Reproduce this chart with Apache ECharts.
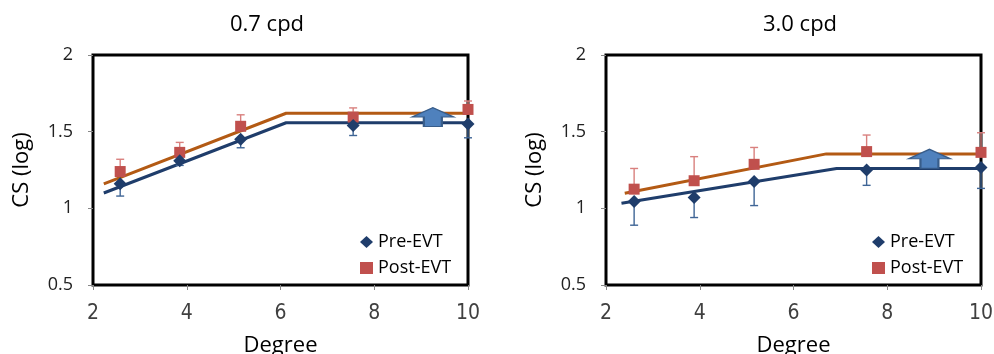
<!DOCTYPE html>
<html>
<head>
<meta charset="utf-8">
<script src="https://cdn.jsdelivr.net/npm/echarts@6/dist/echarts.min.js"></script>
<style>
html,body{margin:0;padding:0;background:#fff;}
#main{width:994px;height:354px;}
</style>
</head>
<body>
<div id="main"></div>
<script>
/*------------数据-------------*/
var titles = ['0.7 cpd', '3.0 cpd'];
var xTicks = [2, 4, 6, 8, 10];
var yTicks = [0.5, 1, 1.5, 2];

// 0.7 cpd
var deg07 = [2.58, 3.85, 5.15, 7.55, 10];
var pre07 = [1.16, 1.31, 1.45, 1.54, 1.55];
var pre07Err = [0.08, 0.03, 0.055, 0.065, 0.09];
var post07 = [1.24, 1.365, 1.535, 1.595, 1.645];
var post07Err = [0.08, 0.065, 0.075, 0.06, 0.055];
var fit07X = [2.23, 6.12, 10];
var fitPre07 = [1.10, 1.558, 1.558];
var fitPost07 = [1.16, 1.62, 1.62];
var arrow07 = [9.25, 1.595];

// 3.0 cpd
var deg30 = [2.6, 3.88, 5.16, 7.56, 10];
var pre30 = [1.045, 1.07, 1.175, 1.25, 1.267];
var pre30Err = [0.155, 0.13, 0.157, 0.10, 0.137];
var post30 = [1.125, 1.18, 1.287, 1.37, 1.365];
var post30Err = [0.135, 0.157, 0.11, 0.108, 0.128];
var fit30PreX = [2.33, 6.92, 10];
var fitPre30 = [1.033, 1.26, 1.26];
var fit30PostX = [2.4, 6.7, 10];
var fitPost30 = [1.098, 1.355, 1.355];
var arrow30 = [8.9, 1.323];

/*------------样式-------------*/
var FONT = "'Open Sans', 'Noto Sans', sans-serif";
var XFONT = "'Liberation Sans Narrow', 'DejaVu Sans Condensed', sans-serif";
var NAVY = '#1F3D6B';
var RED = '#C0504D';
var FIT_PRE = '#1F3D6B';
var FIT_POST = '#B35A14';
var ARROW_PATH = 'path://M0,10 L21,0 L42,10 L30,10 L30,20 L12,20 L12,10 Z';

function zip(xs, ys){
	var out = [];
	for(var i=0;i<xs.length;i++){ out.push([xs[i], ys[i]]); }
	return out;
}
function zip3(xs, ys, es){
	var out = [];
	for(var i=0;i<xs.length;i++){ out.push([xs[i], ys[i], es[i]]); }
	return out;
}

// dir=-1 只画下误差, dir=1 只画上误差
function errBar(dir, color){
	return function(params, api){
		var x = api.value(0), y = api.value(1), e = api.value(2);
		var p0 = api.coord([x, y]);
		var p1 = api.coord([x, y + dir*e]);
		var st = {stroke: color, lineWidth: 1.4};
		return {
			type: 'group',
			children: [
				{type:'line', shape:{x1:p0[0], y1:p0[1], x2:p1[0], y2:p1[1]}, style: st},
				{type:'line', shape:{x1:p1[0]-4, y1:p1[1], x2:p1[0]+4, y2:p1[1]}, style: st}
			]
		};
	};
}

var gridLefts = [93, 606];

function makeAxes(){
	var xAxis = [], yAxis = [];
	for(var i=0;i<2;i++){
		xAxis.push({
			type:'value', gridIndex:i,
			min: xTicks[0], max: xTicks[xTicks.length-1], interval: 2,
			name:'Degree', nameLocation:'middle', nameGap: 50,
			nameTextStyle:{fontFamily:FONT, fontSize:22, color:'#000'},
			axisLine:{show:false},
			axisTick:{show:true, length:5, lineStyle:{color:'#888'}},
			axisLabel:{fontFamily:XFONT, fontSize:21, color:'#404040', margin:18},
			splitLine:{show:false}
		});
		yAxis.push({
			type:'value', gridIndex:i,
			min: yTicks[0], max: yTicks[yTicks.length-1], interval: 0.5,
			name:'CS (log)', nameLocation:'middle', nameGap: 60,
			nameTextStyle:{fontFamily:FONT, fontSize:22, color:'#000'},
			axisLine:{show:false},
			axisTick:{show:true, length:5, lineStyle:{color:'#888'}},
			axisLabel:{fontFamily:FONT, fontSize:18, color:'#222', margin:20},
			splitLine:{show:false}
		});
	}
	return {xAxis:xAxis, yAxis:yAxis};
}

var axes = makeAxes();

function panelSeries(i, deg, pre, preErr, post, postErr, fitPreX, fitPre, fitPostX, fitPost, arrow){
	return [
		{
			name:'fitPost'+i, type:'line', xAxisIndex:i, yAxisIndex:i,
			data: zip(fitPostX, fitPost), symbol:'none', silent:true,
			lineStyle:{color:FIT_POST, width:3}, z:2
		},{
			name:'fitPre'+i, type:'line', xAxisIndex:i, yAxisIndex:i,
			data: zip(fitPreX, fitPre), symbol:'none', silent:true,
			lineStyle:{color:FIT_PRE, width:3}, z:2
		},{
			name:'preErr'+i, type:'custom', xAxisIndex:i, yAxisIndex:i,
			renderItem: errBar(-1, '#3F6596'), data: zip3(deg, pre, preErr), z:3, clip:false
		},{
			name:'postErr'+i, type:'custom', xAxisIndex:i, yAxisIndex:i,
			renderItem: errBar(1, '#D9807E'), data: zip3(deg, post, postErr), z:3, clip:false
		},{
			name:'Pre-EVT', type:'scatter', xAxisIndex:i, yAxisIndex:i,
			symbol:'diamond', symbolSize:13, itemStyle:{color:NAVY, opacity:1},
			data: zip(deg, pre), z:5, clip:false
		},{
			name:'Post-EVT', type:'scatter', xAxisIndex:i, yAxisIndex:i,
			symbol:'rect', symbolSize:11, itemStyle:{color:RED, opacity:1},
			data: zip(deg, post), z:4, clip:false
		},{
			name:'arrow'+i, type:'scatter', xAxisIndex:i, yAxisIndex:i,
			symbol: ARROW_PATH, symbolSize:[42, 19], silent:true,
			itemStyle:{color:'#4F81BD', borderColor:'#385D8A', borderWidth:1.5, opacity:1},
			data: [arrow], z:6
		}
	];
}

var series = [].concat(
	panelSeries(0, deg07, pre07, pre07Err, post07, post07Err, fit07X, fitPre07, fit07X, fitPost07, arrow07),
	panelSeries(1, deg30, pre30, pre30Err, post30, post30Err, fit30PreX, fitPre30, fit30PostX, fitPost30, arrow30)
);

var chart = echarts.init(document.getElementById('main'));
chart.setOption({
	animation:false,
	backgroundColor:'#fff',
	title:[
		{text:titles[0], left:262, top:9, textAlign:'center', textStyle:{fontFamily:FONT, fontSize:22, fontWeight:'normal', color:'#000'}},
		{text:titles[1], left:795, top:9, textAlign:'center', textStyle:{fontFamily:FONT, fontSize:22, fontWeight:'normal', color:'#000'}}
	],
	legend:[
		{orient:'vertical', left:355, top:228, itemGap:8, itemWidth:13, itemHeight:12,
		 textStyle:{fontFamily:FONT, fontSize:18, color:'#000'}, data:['Pre-EVT','Post-EVT'], selectedMode:false},
		{orient:'vertical', left:867, top:228, itemGap:8, itemWidth:13, itemHeight:12,
		 textStyle:{fontFamily:FONT, fontSize:18, color:'#000'}, data:['Pre-EVT','Post-EVT'], selectedMode:false}
	],
	grid:[
		{left:gridLefts[0], top:55, width:375, height:230, show:true, borderColor:'#000', borderWidth:3, backgroundColor:'transparent', outerBoundsMode:'none', containLabel:false},
		{left:gridLefts[1], top:55, width:375, height:230, show:true, borderColor:'#000', borderWidth:3, backgroundColor:'transparent', outerBoundsMode:'none', containLabel:false}
	],
	xAxis: axes.xAxis,
	yAxis: axes.yAxis,
	series: series
});
</script>
</body>
</html>
